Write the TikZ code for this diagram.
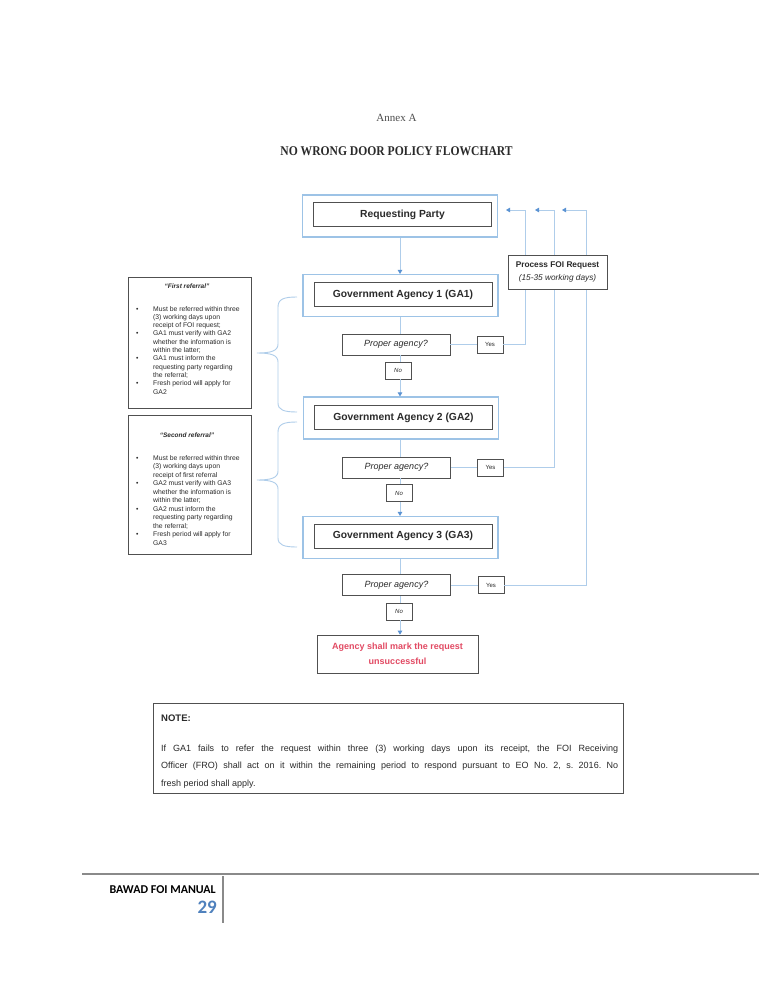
\documentclass[tikz,border=0pt]{standalone}
\usepackage{fontspec}
\usepackage{graphicx}
\setmainfont{Liberation Sans}
\newfontfamily\serifft{Liberation Serif}
\newfontfamily\calibft{Carlito}
\usetikzlibrary{arrows.meta}
\definecolor{bluebox}{HTML}{9DC3E6}
\definecolor{blueline}{HTML}{AFCDEA}
\definecolor{bluetip}{HTML}{5B93D3}
\definecolor{darkbox}{HTML}{505050}
\definecolor{txt}{HTML}{2A2A2A}
\definecolor{redtxt}{HTML}{E24A63}
\definecolor{footblue}{HTML}{4F81BD}
\definecolor{footgray}{HTML}{8A8A8A}
\tikzset{
 outerbox/.style={draw=bluebox, line width=1.1pt, minimum width=195pt, minimum height=42pt, inner sep=0pt},
 innerbox/.style={draw=darkbox, line width=0.8pt, minimum width=178pt, minimum height=24pt, inner sep=0pt, font=\fontsize{10.3}{12}\selectfont\bfseries, text=txt},
 qbox/.style={draw=darkbox, line width=0.7pt, minimum width=108pt, minimum height=21pt, inner sep=0pt, font=\fontsize{9}{11}\selectfont\itshape, text=txt},
 ynbox/.style={draw=darkbox, line width=0.6pt, minimum width=26pt, minimum height=17pt, inner sep=0pt, font=\fontsize{6}{7}\selectfont, text=txt},
 conn/.style={draw=blueline, line width=0.8pt},
 arr/.style={conn, -{Triangle[width=4.5pt,length=4pt,color=bluetip]}},
 refbox/.style={draw=darkbox, line width=0.6pt, minimum width=123pt, inner sep=0pt},
 reftitle/.style={font=\fontsize{6.5}{8}\selectfont\bfseries\itshape, text=txt, inner sep=0pt},
 reflist/.style={anchor=base west, inner sep=0pt, text=txt},
 bracepath/.style={draw=blueline, line width=0.9pt},
}
\begin{document}
\frenchspacing
\begin{tikzpicture}[x=1pt,y=-1pt]
\fill[white] (0,0) rectangle (759,982);
\useasboundingbox (0,0) rectangle (759,982);

% headings
\node[font=\serifft\fontsize{11}{13}\selectfont, text=black!70, inner sep=0pt] (annex) at (396.5,118) {Annex A};
\node[font=\serifft\bfseries\fontsize{11.6}{14}\selectfont, text=txt, inner sep=0pt] (title) at (396.5,151) {\scalebox{1}[1.15]{NO WRONG DOOR POLICY FLOWCHART}};

% main boxes
\node[outerbox] (RPo) at (400,216) {};
\node[innerbox] (RP) at (402.5,214.5) {Requesting Party};
\node[outerbox] (GA1o) at (400.5,295.5) {};
\node[innerbox] (GA1) at (403,294.5) {Government Agency 1 (GA1)};
\node[outerbox] (GA2o) at (401,418) {};
\node[innerbox] (GA2) at (403.5,417.5) {Government Agency 2 (GA2)};
\node[outerbox] (GA3o) at (400.5,537.5) {};
\node[innerbox] (GA3) at (403,536) {Government Agency 3 (GA3)};

\node[qbox] (PA1) at (396,344.5) {Proper agency?};
\node[qbox] (PA2) at (396.5,467.5) {Proper agency?};
\node[qbox] (PA3) at (396.5,585) {Proper agency?};
\node[ynbox] (Yes1) at (490,344.5) {Yes};
\node[ynbox] (Yes2) at (490.5,467.5) {Yes};
\node[ynbox] (Yes3) at (491,585) {Yes};
\node[ynbox, font=\fontsize{6}{7}\selectfont\itshape] (No1) at (398,370.5) {No};
\node[ynbox, font=\fontsize{6}{7}\selectfont\itshape] (No2) at (399,493) {No};
\node[ynbox, font=\fontsize{6}{7}\selectfont\itshape] (No3) at (399,611.5) {No};
\node[draw=darkbox, line width=0.7pt, minimum width=161pt, minimum height=38pt, align=center, inner sep=0pt, font=\fontsize{9}{15}\selectfont\bfseries, text=redtxt] (U) at (397.5,654) {Agency shall mark the request\\unsuccessful};

% vertical flow
\coordinate (ax) at (400,0);
\draw[arr] (RPo.south -| ax) -- (ax |- GA1o.north);
\draw[conn] (GA1o.south -| ax) -- (ax |- PA1.north);
\draw[conn] (ax |- PA1.south) -- (ax |- No1.north);
\draw[arr] (ax |- No1.south) -- (ax |- GA2o.north);
\draw[conn] (GA2o.south -| ax) -- (ax |- PA2.north);
\draw[conn] (ax |- PA2.south) -- (ax |- No2.north);
\draw[arr] (ax |- No2.south) -- (ax |- GA3o.north);
\draw[conn] (GA3o.south -| ax) -- (ax |- PA3.north);
\draw[conn] (ax |- PA3.south) -- (ax |- No3.north);
\draw[arr] (ax |- No3.south) -- (ax |- U.north);

% yes branches
\draw[conn] (PA1.east) -- (Yes1.west);
\draw[conn] (PA2.east) -- (Yes2.west);
\draw[conn] (PA3.east) -- (Yes3.west);
\coordinate (c1) at (525,210); \coordinate (t1) at (506,210);
\coordinate (c2) at (554,210); \coordinate (t2) at (535,210);
\coordinate (c3) at (586,210); \coordinate (t3) at (562,210);
\draw[arr] (Yes1.east) -| (c1) -- (t1);
\draw[arr] (Yes2.east) -| (c2) -- (t2);
\draw[arr] (Yes3.east) -| (c3) -- (t3);

\node[draw=darkbox, fill=white, line width=0.6pt, minimum width=99pt, minimum height=34pt, inner sep=0pt, align=center, font=\fontsize{8.3}{13}\selectfont, text=txt] (proc) at (557.5,272) {\textbf{Process FOI Request}\\\textit{(15-35 working days)}};

% referral boxes
\node[refbox, minimum height=131pt] (ref1) at (189.5,342.5) {};
\node[reftitle] (ref1t) at (187,286) {“First referral”};
\node[reflist, font=\fontsize{6.8}{8.3}\selectfont] (ref1l) at (136,311) {\begin{tabular}[t]{@{}p{17pt}@{}l@{}}
\textbullet & Must be referred within three\\
 & (3) working days upon\\
 & receipt of FOI request;\\
\textbullet & GA1 must verify with GA2\\
 & whether the information is\\
 & within the latter;\\
\textbullet & GA1 must inform the\\
 & requesting party regarding\\
 & the referral;\\
\textbullet & Fresh period will apply for\\
 & GA2
\end{tabular}};

\node[refbox, minimum height=139pt] (ref2) at (189.5,484.5) {};
\node[reftitle] (ref2t) at (187,435) {“Second referral”};
\node[reflist, font=\fontsize{6.8}{8.5}\selectfont] (ref2l) at (136,460) {\begin{tabular}[t]{@{}p{17pt}@{}l@{}}
\textbullet & Must be referred within three\\
 & (3) working days upon\\
 & receipt of first referral\\
\textbullet & GA2 must verify with GA3\\
 & whether the information is\\
 & within the latter;\\
\textbullet & GA2 must inform the\\
 & requesting party regarding\\
 & the referral;\\
\textbullet & Fresh period will apply for\\
 & GA3
\end{tabular}};

% braces
\draw[bracepath] (297,297) .. controls (284,297) and (278,299) .. (278,307) -- (278,344) .. controls (278,351) and (271,353) .. (257,353) .. controls (271,353) and (278,355) .. (278,362) -- (278,403) .. controls (278,410) and (284,412) .. (297,412);
\draw[bracepath] (297,422) .. controls (284,422) and (278,424) .. (278,432) -- (278,471) .. controls (278,478) and (271,480) .. (257,480) .. controls (271,480) and (278,482) .. (278,489) -- (278,538) .. controls (278,545) and (284,547) .. (297,547);

% note
\node[draw=darkbox, line width=0.6pt, minimum width=470pt, minimum height=90pt, inner sep=0pt] (note) at (388,748) {};
\node[anchor=base west, inner sep=0pt, font=\fontsize{9.5}{11}\selectfont\bfseries, text=txt] (noteh) at (161,721.5) {NOTE:};
\node[anchor=base west, inner sep=0pt, text width=457pt, align=justify, font=\fontsize{9}{17.5}\selectfont, text=txt] (notet) at (161,751) {If GA1 fails to refer the request within three (3) working days upon its receipt, the FOI Receiving\linebreak Officer (FRO) shall act on it within the remaining period to respond pursuant to EO No. 2, s. 2016. No\linebreak fresh period shall apply.};

% footer
\draw[footgray, line width=2.8pt] (82,874) -- (759,874);
\draw[footgray, line width=1.5pt] (223,876) -- (223,923);
\node[anchor=base east, inner sep=0pt, font=\calibft\bfseries\fontsize{12}{14}\selectfont, text=black] (foot) at (216,893) {BAWAD FOI MANUAL};
\node[anchor=base east, inner sep=0pt, font=\calibft\bfseries\fontsize{19}{22}\selectfont, text=footblue] (pg) at (217,913) {29};
\end{tikzpicture}
\end{document}
